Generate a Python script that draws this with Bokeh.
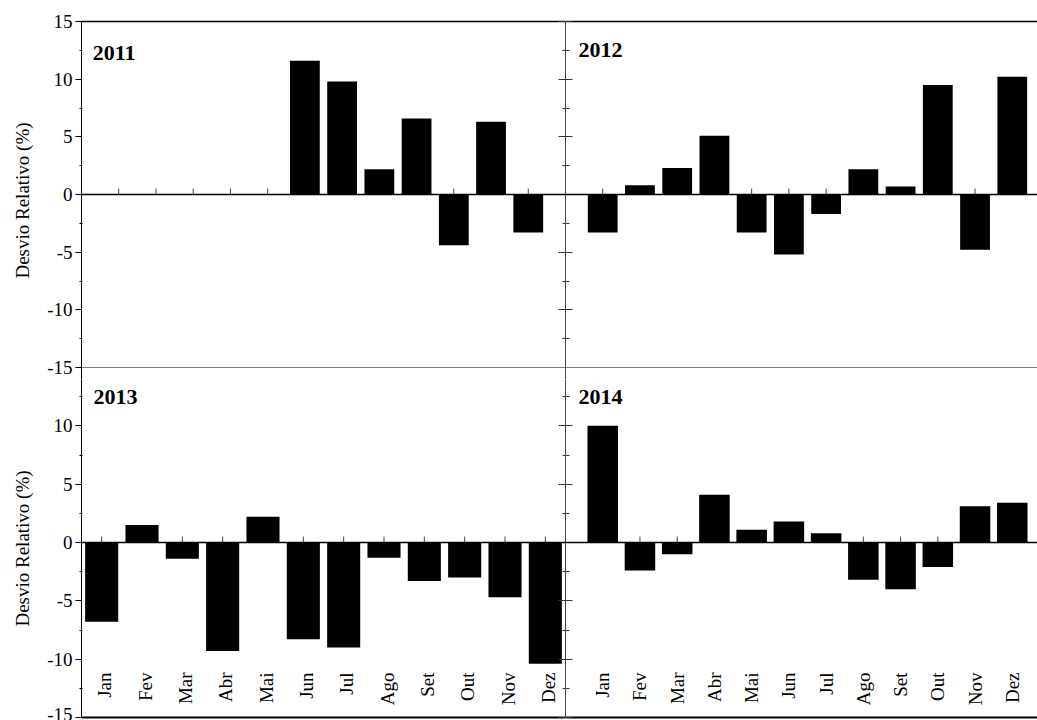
import math

from bokeh.core.properties import value
from bokeh.embed import file_html
from bokeh.layouts import column, row
from bokeh.models import ColumnDataSource, FixedTicker, Label, LinearAxis, Range1d, Span
from bokeh.plotting import figure
from bokeh.resources import INLINE

# ---- data -------------------------------------------------------------
months = ["Jan", "Fev", "Mar", "Abr", "Mai", "Jun", "Jul", "Ago", "Set", "Out", "Nov", "Dez"]
dev_2011 = [None, None, None, None, None, 11.6, 9.8, 2.2, 6.6, -4.4, 6.3, -3.3]
dev_2012 = [-3.3, 0.8, 2.3, 5.1, -3.3, -5.2, -1.7, 2.2, 0.7, 9.5, -4.8, 10.2]
dev_2013 = [-6.8, 1.5, -1.4, -9.3, 2.2, -8.3, -9.0, -1.3, -3.3, -3.0, -4.7, -10.4]
dev_2014 = [10.0, -2.4, -1.0, 4.1, 1.1, 1.8, 0.8, -3.2, -4.0, -2.1, 3.1, 3.4]
years = ["2011", "2012", "2013", "2014"]
y_ticks = [-15, -10, -5, 0, 5, 10, 15]
y_minor = [-12.5, -7.5, -2.5, 2.5, 7.5, 12.5]
y_title = "Desvio Relativo (%)"

SERIF = "Liberation Serif"
positions = list(range(1, len(months) + 1))


def base_figure(width, height, x_range, y_range, borders):
    left, right, top, bottom = borders
    p = figure(width=width, height=height, x_range=x_range, y_range=y_range,
               x_axis_type=None, y_axis_type=None, toolbar_location=None,
               output_backend="svg", min_border_left=left, min_border_right=right,
               min_border_top=top, min_border_bottom=bottom)
    p.outline_line_color = None
    p.background_fill_color = "white"
    p.border_fill_color = "white"
    p.xgrid.visible = False
    p.ygrid.visible = False
    return p


def tick_axis(tick_in, minor_in, line_color):
    # divider axis: ticks pointing into the frame, no labels
    ax = LinearAxis(ticker=FixedTicker(ticks=y_ticks, minor_ticks=y_minor))
    ax.major_tick_in = tick_in
    ax.major_tick_out = 0
    ax.minor_tick_in = minor_in
    ax.minor_tick_out = 0
    ax.major_tick_line_color = "#333333"
    ax.minor_tick_line_color = "#333333"
    ax.axis_line_color = line_color
    ax.major_label_overrides = {t: "" for t in y_ticks}
    ax.major_label_standoff = 0
    return ax


def value_axis(hide_top=False):
    ax = LinearAxis(ticker=FixedTicker(ticks=y_ticks, minor_ticks=y_minor))
    ax.major_tick_out = 6
    ax.major_tick_in = 0
    ax.minor_tick_out = 2
    ax.minor_tick_in = 1
    ax.axis_line_color = "black"
    ax.major_tick_line_color = "black"
    ax.minor_tick_line_color = "black"
    ax.major_label_text_font = SERIF
    ax.major_label_text_font_size = "19px"
    ax.major_label_text_color = "black"
    ax.major_label_standoff = 3
    # plain hyphen for negative values
    labels = {t: "%d" % t for t in y_ticks}
    if hide_top:
        labels[15] = ""
    ax.major_label_overrides = labels
    ax.axis_label = y_title
    ax.axis_label_text_font = SERIF
    ax.axis_label_text_font_style = "normal"
    ax.axis_label_text_font_size = "19px"
    ax.axis_label_text_color = "black"
    ax.axis_label_standoff = 11
    return ax


def edge_axis(width):
    ax = LinearAxis(ticker=FixedTicker(ticks=[]))
    ax.axis_line_color = "black"
    ax.axis_line_width = width
    ax.major_tick_line_color = None
    ax.minor_tick_line_color = None
    ax.major_label_standoff = 0
    return ax


def add_bars(p, values, bar_width, px_per_unit):
    xs = [x for x, v in zip(positions, values) if v is not None]
    vs = [v for v in values if v is not None]
    # small upward ticks along the zero line
    p.segment(x0=positions, y0=[0] * len(positions), x1=positions,
              y1=[6.0 / px_per_unit] * len(positions), line_color="#444444", line_width=1)
    src = ColumnDataSource(data=dict(x=xs, v=vs))
    p.vbar(x="x", top="v", bottom=0, width=bar_width, source=src,
           fill_color="black", line_color=None)
    p.add_layout(Span(location=0, dimension="width", line_color="black", line_width=1.5))


def add_title(p, text, x, y):
    p.add_layout(Label(x=x, y=y, text=text, text_font=SERIF, text_font_style="bold",
                       text_font_size="22px", text_color="black", text_baseline="alphabetic"))


def add_months(p, y, x_offset):
    p.text(x=positions, y=[y] * len(positions), text=months, angle=math.pi / 2,
           text_align="right", text_baseline="middle", x_offset=x_offset,
           text_font=value(SERIF), text_font_size="19px", text_color="black")


# ---- geometry ---------------------------------------------------------
SPLIT = 379              # canvas row boundary (px from top)
top_px = 346 / 30.0      # pixels per unit, upper row
bot_px = 350 / 30.0      # pixels per unit, lower row
col_px = 484 / 13.0      # pixels per month slot in the 0..13 scale
upper_y = Range1d(15 - (SPLIT - 21) / top_px, 15)
lower_y = Range1d(-15, -15 + (717 - SPLIT) / bot_px)
right_x_end = 472 / col_px

# ---- 2011 (upper left) --------------------------------------------------
p11 = base_figure(565, SPLIT, Range1d(0, 13), upper_y, (81, 0, 21, 0))
add_bars(p11, dev_2011, 0.8, top_px)
p11.add_layout(Span(location=-15, dimension="width", line_color="#808080", line_width=1))
p11.add_layout(value_axis(), "left")
p11.add_layout(tick_axis(7, 3, None), "right")
p11.add_layout(edge_axis(1.5), "above")
add_title(p11, years[0], 0.30, 12.31)

# ---- 2012 (upper right) -------------------------------------------------
p12 = base_figure(472, SPLIT, Range1d(0, right_x_end), upper_y, (0, 0, 21, 0))
add_bars(p12, dev_2012, 0.8, top_px)
p12.add_layout(Span(location=-15, dimension="width", line_color="#808080", line_width=1))
p12.add_layout(tick_axis(7, 4, "#444444"), "left")
p12.add_layout(edge_axis(1.5), "above")
add_title(p12, years[1], 0.35, 12.49)

# ---- 2013 (lower left) --------------------------------------------------
p13 = base_figure(565, 720 - SPLIT, Range1d(0.5, 12.5), lower_y, (81, 0, 0, 3))
add_bars(p13, dev_2013, 0.82, bot_px)
p13.add_layout(value_axis(hide_top=True), "left")
p13.add_layout(tick_axis(7, 3, None), "right")
p13.add_layout(edge_axis(2), "below")
add_months(p13, -11.14, 3)
add_title(p13, years[2], 0.80, 12.43)

# ---- 2014 (lower right) -------------------------------------------------
p14 = base_figure(472, 720 - SPLIT, Range1d(0, right_x_end), lower_y, (0, 0, 0, 3))
add_bars(p14, dev_2014, 0.82, bot_px)
p14.add_layout(tick_axis(7, 4, "#444444"), "left")
p14.add_layout(edge_axis(2), "below")
add_months(p14, -11.14, 0)
add_title(p14, years[3], 0.35, 12.43)

layout = column(row(p11, p12), row(p13, p14))
open("out.html", "w").write(file_html(layout, INLINE))
